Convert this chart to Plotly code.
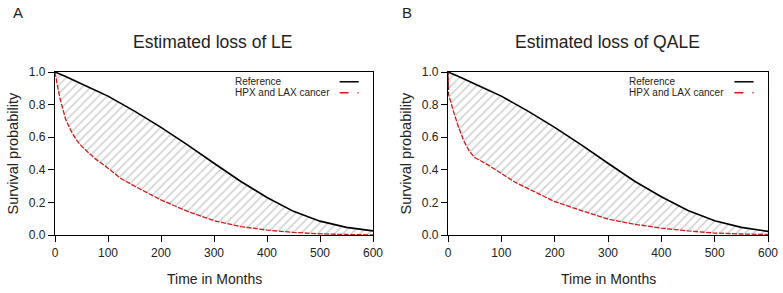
import plotly.graph_objects as go

# ---- data ----
months = [0, 1, 5, 10, 20, 30, 40, 50, 75, 100, 125, 150, 200, 250, 300, 350, 400, 450, 500, 550, 600]

ref_le = [1.0, 0.999, 0.993, 0.986, 0.972, 0.958, 0.943, 0.928, 0.89, 0.852, 0.807, 0.76, 0.66, 0.553, 0.44, 0.33, 0.23, 0.145, 0.085, 0.047, 0.025]
hpx_le = [1.0, 0.98, 0.91, 0.83, 0.71, 0.64, 0.585, 0.545, 0.47, 0.41, 0.345, 0.30, 0.215, 0.145, 0.088, 0.052, 0.03, 0.016, 0.007, 0.003, 0.001]

ref_qale = [1.0, 0.999, 0.993, 0.986, 0.972, 0.958, 0.943, 0.928, 0.89, 0.852, 0.807, 0.76, 0.66, 0.553, 0.44, 0.33, 0.235, 0.15, 0.087, 0.047, 0.022]
hpx_qale = [1.0, 0.86, 0.82, 0.76, 0.66, 0.575, 0.515, 0.475, 0.43, 0.375, 0.325, 0.285, 0.205, 0.15, 0.097, 0.066, 0.042, 0.025, 0.012, 0.006, 0.003]

panel_labels = ["A", "B"]
titles = ["Estimated loss of LE", "Estimated loss of QALE"]
series_names = ["Reference", "HPX and LAX cancer"]
x_ticks = [0, 100, 200, 300, 400, 500, 600]
y_ticks = [0.0, 0.2, 0.4, 0.6, 0.8, 1.0]
x_title = "Time in Months"
y_title = "Survival probability"

W, H = 783, 293


def px(xw):
    return xw / W


def py(yw):
    return 1 - yw / H


xdoms = [(px(55), px(373)), (px(448), px(768))]
ydom = (py(235), py(72))
title_cx = [213, 607]
letter_x = [18, 407]
ytitle_x = [12, 405]

fig = go.Figure()
FONT = "Arial, Liberation Sans, sans-serif"
TXT = "#222"

panels = [(ref_le, hpx_le), (ref_qale, hpx_qale)]
for i, (ref, hpx) in enumerate(panels):
    xa = "x" if i == 0 else "x2"
    ya = "y" if i == 0 else "y2"
    fig.add_trace(go.Scatter(x=months, y=hpx, mode="lines", xaxis=xa, yaxis=ya,
                             line=dict(color="#d11a1a", width=1.3, dash="5px,1.5px"),
                             showlegend=False, name=series_names[1]))
    fig.add_trace(go.Scatter(x=months, y=ref, mode="lines", xaxis=xa, yaxis=ya,
                             line=dict(color="black", width=1.6),
                             fill="tonexty", fillcolor="rgba(0,0,0,0)",
                             fillpattern=dict(shape="/", fgcolor="#999999", bgcolor="white",
                                              size=6, solidity=0.24),
                             showlegend=False, name=series_names[0]))
    if i == 1:
        # initial drop of the cancer curve drawn dark dashed
        fig.add_trace(go.Scatter(x=months[:2], y=hpx[:2], mode="lines", xaxis=xa, yaxis=ya,
                                 line=dict(color="#333333", width=1.2, dash="3px,2px"),
                                 showlegend=False))

axis_common = dict(showline=True, linecolor="black", linewidth=1.4, mirror=True,
                   ticks="outside", ticklen=6, tickwidth=1.4, tickcolor="black",
                   showgrid=False, zeroline=False, automargin=False,
                   tickfont=dict(family=FONT, size=12, color=TXT))

for i in range(2):
    sx = "" if i == 0 else "2"
    fig.layout["xaxis" + sx] = dict(domain=xdoms[i], range=[0, 600], tickvals=x_ticks,
                                    anchor="y" + sx, ticklabeloverflow="allow", **axis_common)
    fig.layout["yaxis" + sx] = dict(domain=ydom, range=[0, 1], tickvals=y_ticks, tickformat=".1f",
                                    anchor="x" + sx, **axis_common)

annotations = []
shapes = []
for i in range(2):
    sx = "" if i == 0 else "2"
    x0, x1 = xdoms[i]
    # panel letter
    annotations.append(dict(text=panel_labels[i], xref="paper", yref="paper",
                            x=px(letter_x[i]), y=py(13), xanchor="center", yanchor="middle",
                            showarrow=False, font=dict(family=FONT, size=15, color=TXT)))
    # title
    annotations.append(dict(text=titles[i], xref="paper", yref="paper",
                            x=px(title_cx[i]), y=py(42), xanchor="center", yanchor="middle",
                            showarrow=False, font=dict(family=FONT, size=17.5, color=TXT)))
    # axis titles
    annotations.append(dict(text=x_title, xref="paper", yref="paper",
                            x=(x0 + x1) / 2, y=py(279), xanchor="center", yanchor="middle",
                            showarrow=False, font=dict(family=FONT, size=14, color=TXT)))
    annotations.append(dict(text=y_title, xref="paper", yref="paper", textangle=-90,
                            x=px(ytitle_x[i]), y=(ydom[0] + ydom[1]) / 2,
                            xanchor="center", yanchor="middle",
                            showarrow=False, font=dict(family=FONT, size=14.5, color=TXT)))
    # legend
    for j, (nm, col, dash, yy) in enumerate([(series_names[0], "black", "solid", 0.94),
                                              (series_names[1], "#d11a1a", "dash", 0.872)]):
        annotations.append(dict(text=nm, xref="x" + sx + " domain", yref="y" + sx + " domain",
                                x=0.56, y=yy, xanchor="left", yanchor="middle", showarrow=False,
                                font=dict(family=FONT, size=10, color=TXT)))
        shapes.append(dict(type="line", xref="x" + sx + " domain", yref="y" + sx + " domain",
                           x0=0.895, x1=0.955, y0=yy, y1=yy,
                           line=dict(color=col, width=1.5, dash=dash)))

fig.update_layout(width=W, height=H, margin=dict(l=0, r=0, t=0, b=0),
                  plot_bgcolor="white", paper_bgcolor="white",
                  annotations=annotations, shapes=shapes, showlegend=False)

# remove the browser's default page margin so the figure fills the window
fig.write_html("out.html", config={"displayModeBar": False},
               post_script="document.body.style.margin='0px';")
